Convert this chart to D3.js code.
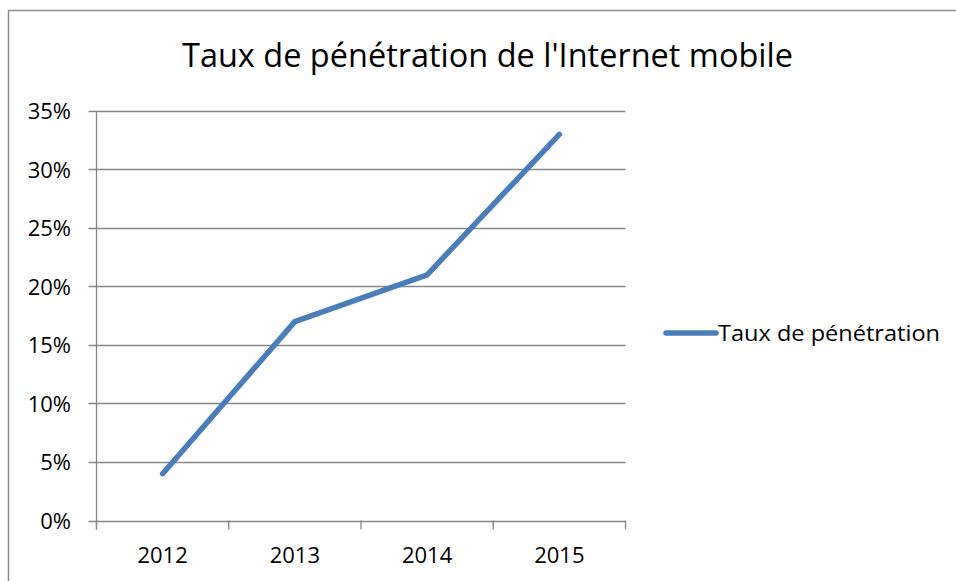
<!DOCTYPE html>
<html><head><meta charset="utf-8">
<script src="https://cdn.jsdelivr.net/npm/d3@7"></script>
<style>body{margin:0;background:#fff}svg{display:block}text{font-family:"Open Sans",sans-serif;fill:#000}</style>
</head><body>
<svg id="c" width="956" height="581"></svg>
<script>
const categories = ["2012","2013","2014","2015"];
const values = [0.04, 0.17, 0.21, 0.33];
const yTicks = [0,0.05,0.10,0.15,0.20,0.25,0.30,0.35];
const seriesName = "Taux de pénétration";
const title = "Taux de pénétration de l'Internet mobile";

const svg = d3.select("#c");
svg.append("rect").attr("x",8.5).attr("y",10.5).attr("width",960).attr("height",600)
  .attr("fill","#fff").attr("stroke","#8c8c8c").attr("stroke-width",1.5);

const L=96.5,R=625.5,T=111,B=520.5;
const x = d3.scaleBand().domain(categories).range([L,R]);
const y = d3.scaleLinear().domain([0,0.35]).range([B,T]);

const grid = svg.append("g");
grid.selectAll("line").data(yTicks).join("line")
  .attr("x1",L-8).attr("x2",R).attr("y1",d=>Math.round(y(d))+0.5).attr("y2",d=>Math.round(y(d))+0.5)
  .attr("stroke","#868686").attr("stroke-width",1.3);
svg.append("line").attr("x1",L).attr("x2",L).attr("y1",T).attr("y2",B+9).attr("stroke","#868686").attr("stroke-width",1.3);
const bounds = categories.map(c=>x(c)).concat([R]);
svg.selectAll(".xt").data(bounds).join("line")
  .attr("x1",d=>d).attr("x2",d=>d).attr("y1",B).attr("y2",B+9).attr("stroke","#868686").attr("stroke-width",1.3);

svg.selectAll(".yl").data(yTicks).join("text")
  .attr("x",71).attr("y",d=>y(d)+8).attr("text-anchor","end")
  .style("font-size","22px").text(d=>d3.format(".0%")(d));
svg.selectAll(".xl").data(categories).join("text")
  .attr("x",d=>x(d)+x.bandwidth()/2).attr("y",563).attr("text-anchor","middle")
  .style("font-size","22px").text(d=>d);

const line = d3.line().x((d,i)=>x(categories[i])+x.bandwidth()/2).y(d=>y(d));
svg.append("path").datum(values).attr("d",line).attr("fill","none")
  .attr("stroke","#4a7ebb").attr("stroke-width",5.5).attr("stroke-linecap","round").attr("stroke-linejoin","round");

svg.append("text").attr("x",182).attr("y",67)
  .style("font-size","32px").attr("textLength",611).attr("lengthAdjust","spacingAndGlyphs").text(title);

svg.append("line").attr("x1",666).attr("x2",716).attr("y1",333).attr("y2",333)
  .attr("stroke","#4a7ebb").attr("stroke-width",5.5).attr("stroke-linecap","round");
svg.append("text").attr("x",718).attr("y",341)
  .style("font-size","22px").attr("textLength",222).attr("lengthAdjust","spacingAndGlyphs").text(seriesName);
</script>
</body></html>
